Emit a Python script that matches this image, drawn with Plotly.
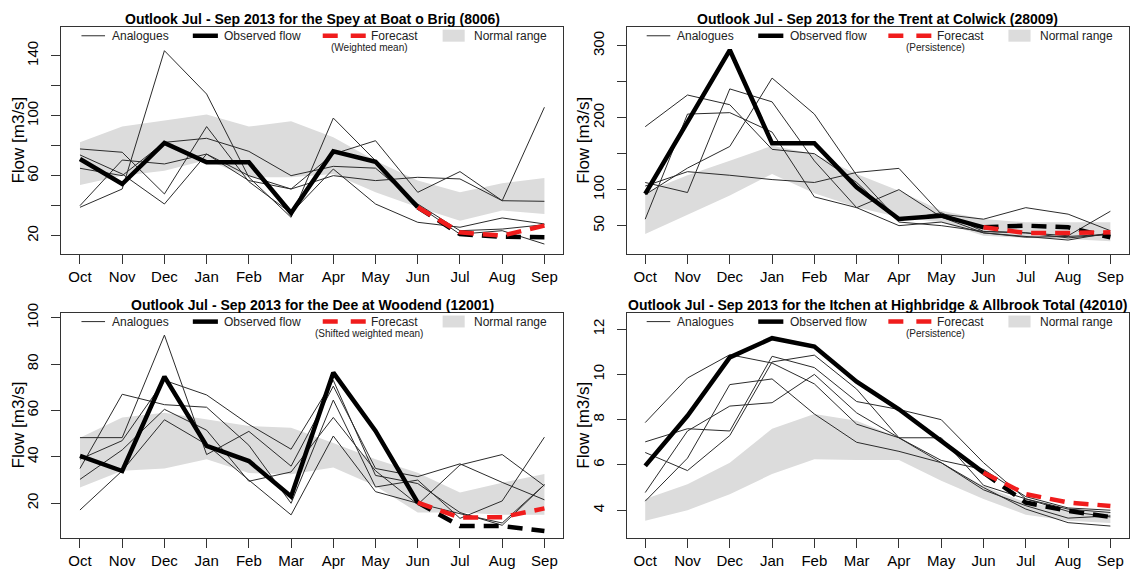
import plotly.graph_objects as go

months = ["Oct", "Nov", "Dec", "Jan", "Feb", "Mar", "Apr", "May", "Jun", "Jul", "Aug", "Sep"]

# ---------------- Spey ----------------
spey_title = "Outlook Jul - Sep 2013 for the Spey at Boat o Brig (8006)"
spey_method = "(Weighted mean)"
spey_upper = [82.2, 92.7, 96.7, 100.7, 92.7, 96.2, 85.6, 70.0, 56.7, 48.9, 54.9, 58.4]
spey_lower = [53.8, 60.0, 63.3, 70.4, 58.9, 58.9, 61.1, 48.9, 38.9, 30.0, 36.7, 34.4]
spey_an1 = [38.9, 51.1, 143.3, 114.4, 58.9, 32.2, 98.4, 70.0, 40.0, 21.0, 23.3, 14.4]
spey_an2 = [77.8, 75.6, 47.8, 92.7, 56.0, 35.0, 64.4, 41.1, 28.9, 25.6, 31.8, 27.8]
spey_an3 = [73.8, 61.1, 41.1, 74.4, 60.0, 51.1, 74.4, 83.3, 48.9, 62.7, 43.3, 105.6]
spey_an4 = [64.9, 60.0, 82.2, 84.9, 76.2, 60.0, 66.2, 65.0, 41.1, 23.3, 24.4, 27.3]
spey_an5 = [40.0, 70.4, 67.8, 74.4, 56.7, 51.1, 60.0, 56.7, 58.9, 57.8, 43.3, 42.9]
spey_obs = [71.1, 54.4, 81.8, 68.9, 68.9, 35.1, 76.2, 69.3, 38.9]
spey_obs_after = [38.9, 21.0, 19.3, 18.9]
spey_fc = [38.9, 22.2, 20.0, 26.7]
spey_ticks = [20, 40, 60, 80, 100, 120, 140]
spey_ticktext = ["20", "", "60", "", "100", "", "140"]
spey_range = [8.0, 159.3]

# ---------------- Trent ----------------
trent_title = "Outlook Jul - Sep 2013 for the Trent at Colwick (28009)"
trent_method = "(Persistence)"
trent_upper = [96.3, 120.0, 140.0, 161.0, 149.5, 121.8, 98.6, 70.8, 59.3, 54.6, 54.6, 54.6]
trent_lower = [38.4, 65.0, 92.0, 121.8, 95.0, 75.5, 61.6, 54.6, 36.1, 32.9, 31.5, 28.2]
trent_an1 = [187.5, 231.5, 218.0, 156.0, 150.0, 110.0, 55.0, 50.0, 42.0, 40.0, 33.0, 38.0]
trent_an2 = [110.0, 96.0, 240.0, 222.0, 140.0, 75.0, 50.0, 55.0, 40.0, 35.0, 30.0, 40.0]
trent_an3 = [59.0, 205.0, 207.0, 180.0, 90.0, 75.0, 100.0, 62.0, 40.0, 34.0, 35.0, 38.0]
trent_an4 = [93.0, 130.0, 160.0, 255.0, 205.0, 120.0, 57.0, 68.0, 42.0, 40.0, 36.0, 70.0]
trent_an5 = [105.0, 125.0, 120.0, 114.0, 110.0, 124.0, 129.6, 66.0, 59.0, 75.0, 66.0, 43.0]
trent_obs = [94.0, 193.5, 294.0, 164.4, 164.4, 103.2, 59.3, 63.9, 47.7]
trent_obs_after = [47.7, 50.0, 47.7, 33.8]
trent_fc = [47.7, 39.8, 39.8, 40.7]
trent_ticks = [50, 100, 150, 200, 250, 300]
trent_ticktext = ["50", "100", "", "200", "", "300"]
trent_range = [11.1, 326.4]

# ---------------- Dee ----------------
dee_title = "Outlook Jul - Sep 2013 for the Dee at Woodend (12001)"
dee_method = "(Shifted weighted mean)"
dee_upper = [48.3, 57.0, 59.0, 56.2, 53.3, 52.6, 46.0, 39.0, 33.2, 24.6, 28.9, 32.6]
dee_lower = [26.8, 34.0, 35.0, 39.0, 33.0, 32.5, 35.4, 27.5, 16.0, 16.0, 15.0, 15.0]
dee_an1 = [48.3, 48.3, 92.5, 41.0, 51.0, 36.0, 70.5, 35.0, 31.5, 37.0, 29.0, 21.5]
dee_an2 = [17.1, 34.0, 56.0, 45.3, 30.0, 15.0, 49.0, 25.0, 20.0, 15.5, 11.5, 28.0]
dee_an3 = [35.0, 67.0, 62.5, 61.4, 45.0, 20.0, 64.5, 27.0, 30.0, 13.5, 21.0, 48.5]
dee_an4 = [30.3, 43.0, 60.5, 51.5, 29.5, 33.5, 57.0, 34.0, 19.5, 36.5, 41.0, 27.5]
dee_an5 = [39.0, 47.0, 73.0, 66.7, 54.0, 43.3, 73.0, 32.0, 28.5, 16.0, 10.5, 28.0]
dee_obs = [40.4, 33.9, 74.6, 44.7, 38.2, 22.9, 76.3, 51.2, 20.3]
dee_obs_after = [20.3, 10.2, 10.2, 8.0]
dee_fc = [20.3, 13.8, 14.0, 17.8]
dee_ticks = [20, 40, 60, 80, 100]
dee_ticktext = ["20", "40", "60", "80", "100"]
dee_range = [5.2, 102.2]

# ---------------- Itchen ----------------
itchen_title = "Outlook Jul - Sep 2013 for the Itchen at Highbridge & Allbrook Total (42010)"
itchen_method = "(Persistence)"
itchen_upper = [4.5, 5.15, 6.1, 7.6, 8.25, 7.95, 7.2, 6.1, 5.07, 4.34, 4.07, 3.9]
itchen_lower = [3.53, 4.0, 4.7, 5.6, 6.25, 6.22, 6.22, 5.3, 4.5, 3.8, 3.53, 3.43]
itchen_an1 = [7.87, 9.84, 10.87, 10.5, 9.58, 7.8, 7.2, 6.2, 5.8, 4.6, 4.1, 4.0]
itchen_an2 = [7.02, 7.6, 7.5, 10.8, 10.3, 8.8, 8.45, 8.0, 6.1, 4.5, 4.05, 3.9]
itchen_an3 = [6.55, 5.75, 7.3, 10.55, 10.85, 9.35, 7.2, 6.1, 4.9, 4.2, 3.65, 3.75]
itchen_an4 = [4.78, 7.5, 8.6, 8.75, 10.0, 8.3, 7.2, 7.2, 5.1, 4.5, 3.95, 3.7]
itchen_an5 = [4.4, 6.3, 9.55, 9.8, 8.25, 7.0, 6.6, 6.1, 5.0, 4.05, 3.45, 3.3]
itchen_obs = [5.96, 8.17, 10.75, 11.6, 11.23, 9.68, 8.46, 7.06, 5.66]
itchen_obs_after = [5.66, 4.34, 3.97, 3.70]
itchen_fc = [5.66, 4.71, 4.34, 4.19]
itchen_ticks = [4, 6, 8, 10, 12]
itchen_ticktext = ["4", "6", "8", "10", "12"]
itchen_range = [2.79, 12.73]

panels = [
    dict(title=spey_title, method=spey_method, upper=spey_upper, lower=spey_lower,
         analogues=[spey_an1, spey_an2, spey_an3, spey_an4, spey_an5],
         obs=spey_obs, obs_after=spey_obs_after, fc=spey_fc,
         ticks=spey_ticks, ticktext=spey_ticktext, yrange=spey_range),
    dict(title=trent_title, method=trent_method, upper=trent_upper, lower=trent_lower,
         analogues=[trent_an1, trent_an2, trent_an3, trent_an4, trent_an5],
         obs=trent_obs, obs_after=trent_obs_after, fc=trent_fc,
         ticks=trent_ticks, ticktext=trent_ticktext, yrange=trent_range),
    dict(title=dee_title, method=dee_method, upper=dee_upper, lower=dee_lower,
         analogues=[dee_an1, dee_an2, dee_an3, dee_an4, dee_an5],
         obs=dee_obs, obs_after=dee_obs_after, fc=dee_fc,
         ticks=dee_ticks, ticktext=dee_ticktext, yrange=dee_range),
    dict(title=itchen_title, method=itchen_method, upper=itchen_upper, lower=itchen_lower,
         analogues=[itchen_an1, itchen_an2, itchen_an3, itchen_an4, itchen_an5],
         obs=itchen_obs, obs_after=itchen_obs_after, fc=itchen_fc,
         ticks=itchen_ticks, ticktext=itchen_ticktext, yrange=itchen_range),
]

W, H = 1132, 571
# box pixel extents (left, right, top, bottom)
boxes = [
    (61.4, 563.0, 17.0, 248.0),
    (626.6, 1129.0, 17.0, 248.0),
    (61.4, 563.0, 308.0, 537.0),
    (626.6, 1129.0, 308.0, 537.0),
]

FONT = "Liberation Sans, Arial, sans-serif"
AXC = "#333333"
BAND = "#dcdcdc"
RED = "#f01c1c"

fig = go.Figure()
shapes = []
annotations = []

for i, (p, box) in enumerate(zip(panels, boxes)):
    n = i + 1
    xa = "x" if n == 1 else f"x{n}"
    ya = "y" if n == 1 else f"y{n}"
    l, r, t, b = box
    # normal range band
    fig.add_trace(go.Scatter(
        x=months + months[::-1], y=p["upper"] + p["lower"][::-1],
        fill="toself", fillcolor=BAND, line=dict(width=0), mode="lines",
        hoverinfo="skip", showlegend=False, xaxis=xa, yaxis=ya))
    for a in p["analogues"]:
        fig.add_trace(go.Scatter(x=months, y=a, mode="lines",
                                 line=dict(color="#2b2b2b", width=1),
                                 showlegend=False, xaxis=xa, yaxis=ya))
    fig.add_trace(go.Scatter(x=months[:len(p["obs"])], y=p["obs"], mode="lines",
                             line=dict(color="black", width=4.5),
                             showlegend=False, xaxis=xa, yaxis=ya))
    fig.add_trace(go.Scatter(x=months[8:], y=p["obs_after"], mode="lines",
                             line=dict(color="black", width=4.5, dash="15px,9px"),
                             showlegend=False, xaxis=xa, yaxis=ya))
    fig.add_trace(go.Scatter(x=months[8:], y=p["fc"], mode="lines",
                             line=dict(color=RED, width=4.5, dash="15px,9px"),
                             showlegend=False, xaxis=xa, yaxis=ya))

    xkey = "xaxis" if n == 1 else f"xaxis{n}"
    ykey = "yaxis" if n == 1 else f"yaxis{n}"
    fig.update_layout(**{
        xkey: dict(domain=[l / W, r / W], anchor=ya, type="category",
                   categoryorder="array", categoryarray=months,
                   range=[-0.44, 11.44], showgrid=False, zeroline=False,
                   showline=True, mirror=True, linecolor=AXC, linewidth=1.2,
                   ticks="outside", ticklen=9, tickcolor=AXC, tickwidth=1.2,
                   tickfont=dict(family=FONT, size=15, color="black"),
                   ticklabelstandoff=0),
        ykey: dict(domain=[1 - b / H, 1 - t / H], anchor=xa,
                   range=p["yrange"], showgrid=False, zeroline=False,
                   showline=True, mirror=True, linecolor=AXC, linewidth=1.2,
                   ticks="outside", ticklen=9, tickcolor=AXC, tickwidth=1.2,
                   tickvals=p["ticks"], ticktext=p["ticktext"], tickangle=-90,
                   tickfont=dict(family=FONT, size=15, color="black"),
                   ticklabelstandoff=7),
    })

    cx = (l + r) / 2 / W
    annotations.append(dict(text=f"<b>{p['title']}</b>", x=cx, y=1 - (t - 8) / H,
                            xref="paper", yref="paper", xanchor="center", yanchor="middle",
                            showarrow=False, font=dict(family=FONT, size=14, color="black")))
    annotations.append(dict(text="Flow [m3/s]", x=(l - 43) / W, y=1 - ((t + b) / 2) / H,
                            xref="paper", yref="paper", xanchor="center", yanchor="middle",
                            textangle=-90, showarrow=False,
                            font=dict(family=FONT, size=17, color="black")))

    # legend (drawn inside the box, relative to the axes domain)
    xd, yd = f"{xa} domain", f"{ya} domain"
    ly = 0.960
    shapes.append(dict(type="line", xref=xd, yref=yd, x0=0.040, x1=0.087, y0=ly, y1=ly,
                       line=dict(color="#2b2b2b", width=1)))
    annotations.append(dict(text="Analogues", x=0.097, y=ly, xref=xd, yref=yd,
                            xanchor="left", yanchor="middle", showarrow=False,
                            font=dict(family=FONT, size=12, color="#222")))
    shapes.append(dict(type="line", xref=xd, yref=yd, x0=0.262, x1=0.312, y0=ly, y1=ly,
                       line=dict(color="black", width=4.5)))
    annotations.append(dict(text="Observed flow", x=0.321, y=ly, xref=xd, yref=yd,
                            xanchor="left", yanchor="middle", showarrow=False,
                            font=dict(family=FONT, size=12, color="#222")))
    shapes.append(dict(type="line", xref=xd, yref=yd, x0=0.521, x1=0.607, y0=ly, y1=ly,
                       line=dict(color=RED, width=4.5, dash="15px,13px")))
    annotations.append(dict(text="Forecast", x=0.614, y=ly, xref=xd, yref=yd,
                            xanchor="left", yanchor="middle", showarrow=False,
                            font=dict(family=FONT, size=12, color="#222")))
    annotations.append(dict(text=p["method"], x=0.614, y=0.907, xref=xd, yref=yd,
                            xanchor="center", yanchor="middle", showarrow=False,
                            font=dict(family=FONT, size=10, color="#222")))
    shapes.append(dict(type="rect", xref=xd, yref=yd, x0=0.760, x1=0.804, y0=0.934, y1=0.987,
                       fillcolor=BAND, line=dict(width=0)))
    annotations.append(dict(text="Normal range", x=0.818, y=ly, xref=xd, yref=yd,
                            xanchor="left", yanchor="middle", showarrow=False,
                            font=dict(family=FONT, size=12, color="#222")))

fig.update_layout(width=W, height=H, margin=dict(l=0, r=0, t=0, b=0),
                  plot_bgcolor="white", paper_bgcolor="white",
                  shapes=shapes, annotations=annotations, showlegend=False)

post = (
    "document.documentElement.style.margin='0';"
    "document.documentElement.style.overflow='hidden';"
    "document.body.style.margin='0';document.body.style.padding='0';"
    "document.body.style.overflow='hidden';"
    "var gd=document.getElementById('{plot_id}');"
    "gd.style.position='fixed';gd.style.top='0px';gd.style.left='0px';"
)
fig.write_html("out.html", config={"displayModeBar": False}, post_script=post)
